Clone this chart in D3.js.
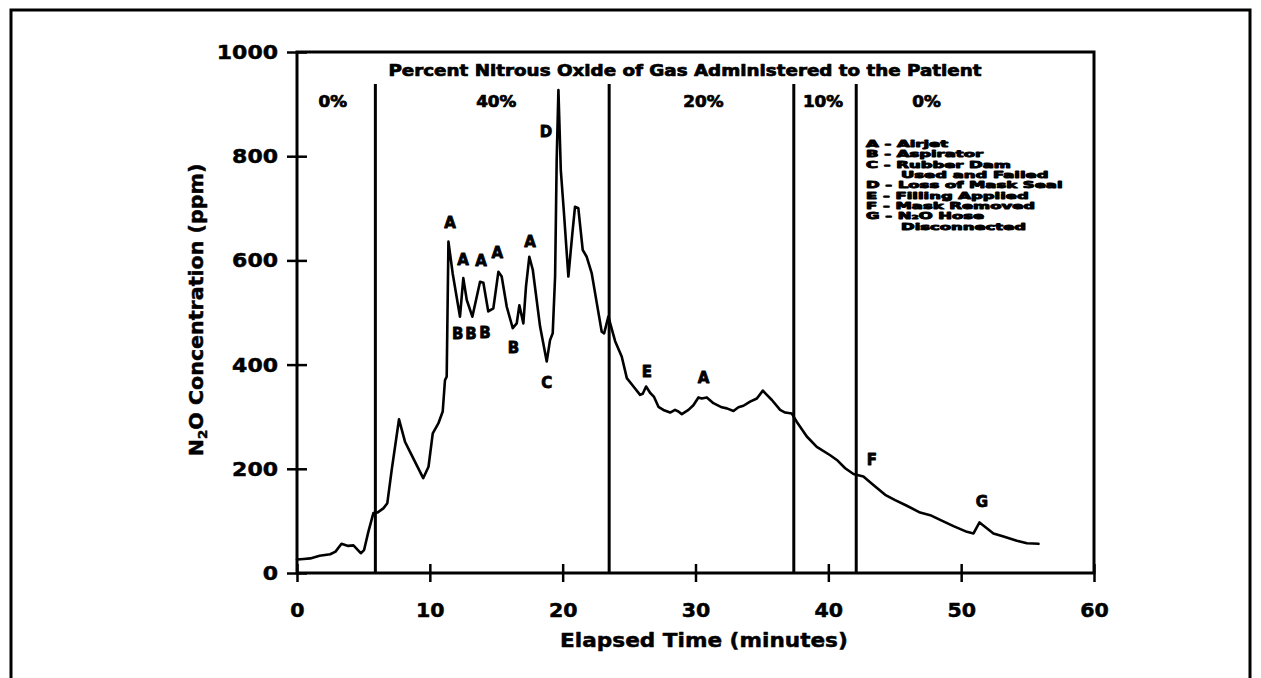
<!DOCTYPE html>
<html>
<head>
<meta charset="utf-8">
<script src="https://cdn.jsdelivr.net/npm/d3@7"></script>
<style>
  html, body { margin: 0; padding: 0; background: #fff; }
  svg { display: block; }
  text { font-family: "DejaVu Sans", sans-serif; font-weight: bold; fill: #000;
         stroke: #000; stroke-width: 0.5px; stroke-linejoin: round; }
</style>
</head>
<body>
<svg id="chart" width="1261" height="678"></svg>
<script>
// N2O concentration trace (elapsed minutes, ppm)
const times = [0.0, 0.5, 1.0, 1.7, 2.5, 2.9, 3.35, 3.85, 4.25, 4.8, 5.05, 5.37, 5.75, 6.05, 6.5, 6.8,
  7.13, 7.68, 8.13, 8.5, 9.5, 9.9, 10.22, 10.64, 10.97, 11.14, 11.27, 11.4, 11.72, 12.27, 12.52,
  12.78, 13.2, 13.78, 14.03, 14.4, 14.78, 15.16, 15.41, 15.79, 16.24, 16.54, 16.74, 17.04, 17.24,
  17.49, 17.75, 18.3, 18.8, 19.05, 19.25, 19.43, 19.55, 19.68, 19.86, 20.1, 20.43, 20.73, 20.93,
  21.18, 21.51, 21.81, 22.19, 22.57, 22.94, 23.12, 23.44, 23.95, 24.45, 24.83, 25.33, 25.83, 26.03,
  26.28, 26.58, 26.88, 27.21, 27.58, 28.09, 28.46, 28.71, 28.97, 29.47, 29.84, 30.22, 30.47, 30.85,
  31.35, 31.98, 32.36, 32.86, 33.23, 33.61, 34.11, 34.62, 35.07, 35.37, 35.75, 36.37, 36.75, 37.25,
  37.63, 38.38, 39.13, 40.14, 40.64, 41.27, 41.89, 42.64, 43.39, 44.28, 45.03, 45.91, 46.91, 47.67,
  48.42, 49.42, 50.43, 50.93, 51.38, 51.93, 52.43, 53.19, 54.19, 54.95, 55.82];
const ppm = [26, 27, 28, 33, 36, 41, 56, 52, 53, 38, 44, 79, 115, 116, 124, 134,
  198, 295, 252, 233, 182, 204, 268, 287, 310, 370, 377, 636, 575, 492, 566,
  524, 492, 559, 557, 502, 508, 578, 569, 511, 470, 479, 514, 479, 550,
  607, 582, 473, 406, 447, 460, 569, 793, 927, 773, 690, 569, 652, 703,
  700, 620, 607, 575, 518, 463, 460, 492, 445, 415, 374, 358, 342, 344,
  358, 346, 338, 319, 313, 308, 313, 310, 305, 313, 322, 337, 335, 337,
  326, 318, 316, 311, 318, 321, 329, 335, 350, 342, 332, 313, 308, 306,
  290, 262, 242, 226, 217, 201, 190, 185, 169, 150, 140, 129, 116, 111,
  102, 90, 79, 76, 97, 86, 76, 70, 62, 57, 56];

// Axis ticks
const xTicks = [0, 10, 20, 30, 40, 50, 60];
const yTicks = [0, 200, 400, 600, 800, 1000];

// Administered gas phases: boundaries (minutes) and percent labels
const phaseBounds = [5.9, 23.5, 37.4, 42.1];
const phaseLabels = ["0%", "40%", "20%", "10%", "0%"];
const phaseLabelTimes = [2.7, 15.0, 30.6, 39.6, 47.4];

// Event annotations along the trace
const annLetters = ["A", "A", "A", "A", "A", "D", "B", "B", "B", "B", "C", "E", "A", "F", "G"];
const annTimes = [11.52, 12.5, 13.85, 15.08, 17.55, 18.75, 12.1, 13.1, 14.15, 16.29, 18.8, 26.33, 30.6, 43.28, 51.56];
const annPpm = [672, 601, 598, 615, 636, 847, 458, 458, 460, 431, 364, 386, 374, 216, 137];

// Key to the event letters
const legendLines = ["A - Airjet", "B - Aspirator", "C - Rubber Dam", "Used and Failed",
  "D - Loss of Mask Seal", "E - Filling Applied", "F - Mask Removed", "G - N₂O Hose", "Disconnected"];
const legendContinued = [false, false, false, true, false, false, false, false, true];

const svg = d3.select("#chart");

// Widen glyphs horizontally to imitate an extended bold face
function stretch(sel, k) {
  sel.each(function () {
    const w = this.getComputedTextLength();
    this.setAttribute("textLength", w * k);
    this.setAttribute("lengthAdjust", "spacingAndGlyphs");
  });
}

// Outer page border
svg.append("rect")
  .attr("x", 11).attr("y", 10).attr("width", 1239).attr("height", 720)
  .attr("fill", "none").attr("stroke", "#000").attr("stroke-width", 3);

const x = d3.scaleLinear().domain([0, 60]).range([297, 1094]);
const y = d3.scaleLinear().domain([0, 1000]).range([573, 52]);

// Plot frame
svg.append("rect")
  .attr("x", x(0)).attr("y", y(1000))
  .attr("width", x(60) - x(0)).attr("height", y(0) - y(1000))
  .attr("fill", "none").attr("stroke", "#000").attr("stroke-width", 3);

// X axis
const gx = svg.append("g")
  .attr("transform", `translate(0,${y(0)})`)
  .call(d3.axisBottom(x).tickValues(xTicks).tickFormat(d3.format("d"))
    .tickSizeInner(9).tickSizeOuter(0).tickPadding(22));
gx.select(".domain").remove();
gx.selectAll(".tick line").attr("y1", -9).attr("stroke", "#000").attr("stroke-width", 2.5);
gx.selectAll(".tick text").attr("font-size", 19).attr("fill", "#000");
stretch(gx.selectAll(".tick text"), 1.08);

// Y axis
const gy = svg.append("g")
  .attr("transform", `translate(${x(0)},0)`)
  .call(d3.axisLeft(y).tickValues(yTicks).tickFormat(d3.format("d"))
    .tickSizeInner(10).tickSizeOuter(0).tickPadding(9));
gy.select(".domain").remove();
gy.selectAll(".tick line").attr("x1", 10).attr("stroke", "#000").attr("stroke-width", 2.5);
gy.selectAll(".tick text").attr("font-size", 20).attr("fill", "#000");
stretch(gy.selectAll(".tick text"), 1.1);

// Axis titles
const xTitle = svg.append("text")
  .attr("x", 704).attr("y", 640)
  .attr("text-anchor", "middle").attr("dominant-baseline", "central")
  .attr("font-size", 20)
  .text("Elapsed Time (minutes)");
stretch(xTitle, 1.08);

const yTitle = svg.append("text")
  .attr("transform", "translate(196,310) rotate(-90)")
  .attr("text-anchor", "middle").attr("dominant-baseline", "central")
  .attr("font-size", 20);
yTitle.append("tspan").text("N");
yTitle.append("tspan").attr("font-size", 13).attr("dy", 6).text("2");
yTitle.append("tspan").attr("dy", -6).text("O Concentration (ppm)");
stretch(yTitle, 1.03);

// Phase dividers
svg.append("g").selectAll("line")
  .data(phaseBounds)
  .join("line")
  .attr("x1", d => x(d)).attr("x2", d => x(d))
  .attr("y1", 84).attr("y2", y(0))
  .attr("stroke", "#000").attr("stroke-width", 3);

// Chart heading and phase percentages
const heading = svg.append("text")
  .attr("x", 685).attr("y", 71)
  .attr("text-anchor", "middle").attr("dominant-baseline", "central")
  .attr("font-size", 15)
  .style("stroke-width", "0.7px")
  .text("Percent Nitrous Oxide of Gas Administered to the Patient");
stretch(heading, 1.22);

const phaseText = svg.append("g").selectAll("text")
  .data(phaseLabels)
  .join("text")
  .attr("x", (d, i) => x(phaseLabelTimes[i])).attr("y", 102)
  .attr("text-anchor", "middle").attr("dominant-baseline", "central")
  .attr("font-size", 15)
  .style("stroke-width", "0.7px")
  .text(d => d);
stretch(phaseText, 1.12);

// Concentration trace
const pts = times.map((t, i) => [t, ppm[i]]);
svg.append("path")
  .datum(pts)
  .attr("fill", "none").attr("stroke", "#000").attr("stroke-width", 2.6)
  .attr("stroke-linejoin", "round").attr("stroke-linecap", "round")
  .attr("d", d3.line().x(d => x(d[0])).y(d => y(d[1])));

// Event letters
svg.append("g").selectAll("text")
  .data(annLetters)
  .join("text")
  .attr("x", (d, i) => x(annTimes[i])).attr("y", (d, i) => y(annPpm[i]))
  .attr("text-anchor", "middle").attr("dominant-baseline", "central")
  .attr("font-size", 15)
  .style("stroke-width", "0.8px")
  .text(d => d);

// Key
const legendText = svg.append("g").selectAll("text")
  .data(legendLines)
  .join("text")
  .attr("x", (d, i) => legendContinued[i] ? 901 : 866)
  .attr("y", (d, i) => 144 + i * 10.35)
  .attr("dominant-baseline", "central")
  .attr("font-size", 8.9)
  .style("stroke-width", "0.9px")
  .text(d => d);
stretch(legendText, 1.85);
</script>
</body>
</html>
